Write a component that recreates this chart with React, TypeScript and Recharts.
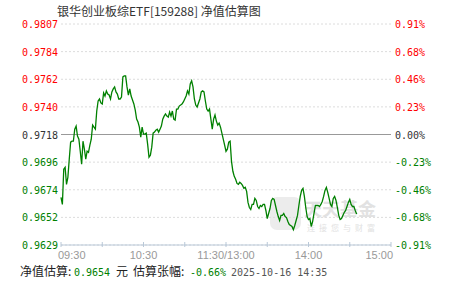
import React from 'react';
import { LineChart, Line, XAxis, YAxis, CartesianGrid, ReferenceLine } from 'recharts';

// 09:30 - 11:30 (minute 0..120)
const morningValues = [
  0.96673, 0.96617, 0.969, 0.96916, 0.96778, 0.96835, 0.96981, 0.97118, 0.97126, 0.97126,
  0.97223, 0.97248, 0.97167, 0.97142, 0.97045, 0.9694, 0.97126, 0.97062, 0.96981, 0.97045,
  0.97037, 0.97094, 0.97142, 0.97256, 0.97239, 0.97223, 0.97369, 0.9745, 0.97466, 0.97434,
  0.97426, 0.97515, 0.9749, 0.97531, 0.97506, 0.97498, 0.97466, 0.97523, 0.97547, 0.97563,
  0.97523, 0.97506, 0.97466, 0.97466, 0.97482, 0.97644, 0.97652, 0.97652, 0.97563, 0.97498,
  0.97547, 0.9749, 0.97458, 0.97426, 0.97377, 0.97304, 0.9728, 0.97239, 0.97159, 0.97239,
  0.97183, 0.97183, 0.97191, 0.97102, 0.96997, 0.97013, 0.97078, 0.97191, 0.97199, 0.97215,
  0.97223, 0.97199, 0.97223, 0.97248, 0.97304, 0.97328, 0.97345, 0.97328, 0.9732, 0.97361,
  0.97328, 0.97369, 0.97304, 0.97296, 0.97385, 0.97385, 0.97409, 0.97417, 0.97426, 0.97442,
  0.97466, 0.9749, 0.97531, 0.97506, 0.97587, 0.97612, 0.97563, 0.97466, 0.97417, 0.97401,
  0.97434, 0.97466, 0.97523, 0.97531, 0.97523, 0.9745, 0.97385, 0.97369, 0.97385, 0.97304,
  0.97223, 0.97304, 0.97337, 0.97288, 0.97256, 0.97272, 0.97239, 0.97191, 0.97142, 0.97094,
  0.97045,
];

// 13:01 - 14:35
const afternoonValues = [
  0.97062, 0.97118, 0.97126, 0.96964, 0.96884, 0.96843, 0.96819, 0.96786, 0.96778, 0.96795,
  0.96786, 0.9677, 0.96746, 0.96754, 0.96722, 0.96633, 0.96592, 0.96576, 0.96617, 0.96617,
  0.96665, 0.96649, 0.966, 0.96584, 0.96608, 0.966, 0.96617, 0.96617, 0.96568, 0.96503,
  0.96544, 0.96584, 0.96649, 0.96665, 0.96657, 0.96608, 0.9656, 0.96519, 0.96487, 0.96528,
  0.96528, 0.96544, 0.96519, 0.96511, 0.96479, 0.96455, 0.96447, 0.96439, 0.96414, 0.96447,
  0.96487, 0.96528, 0.96608, 0.96681, 0.9673, 0.96746, 0.96681, 0.96592, 0.96519, 0.96495,
  0.96503, 0.96439, 0.96479, 0.96544, 0.96608, 0.96608, 0.96608, 0.966, 0.96617, 0.96641,
  0.96681, 0.9673, 0.96754, 0.96714, 0.96665, 0.96617, 0.966, 0.96665, 0.96681, 0.96649,
  0.96592, 0.96528, 0.96495, 0.96503, 0.96528, 0.96552, 0.96568, 0.966, 0.96633, 0.96657,
  0.96617, 0.966, 0.966, 0.96568, 0.9654,
];

const prevClose = 0.9718;
const yMin = 0.9629;
const yMax = 0.9807;
const leftTickLabels = ['0.9629', '0.9652', '0.9674', '0.9696', '0.9718', '0.9740', '0.9762', '0.9784', '0.9807'];
const rightTickLabels = ['-0.91%', '-0.68%', '-0.46%', '-0.23%', '0.00%', '0.23%', '0.46%', '0.68%', '0.91%'];

const xTickMinutes = [0, 30, 60, 90, 120, 150, 180, 210, 240];
const xLabelMinutes = [0, 60, 120, 180, 240];
const xLabels = ['09:30', '10:30', '11:30/13:00', '14:00', '15:00'];

const titleText = '银华创业板综ETF[159288] 净值估算图';
const footerParts = [
  { text: '净值估算:', x: 20, kind: 'cn' },
  { text: '0.9654', x: 74, kind: 'green' },
  { text: '元', x: 116, kind: 'cn' },
  { text: '估算张幅:', x: 133, kind: 'cn' },
  { text: '-0.66%', x: 190, kind: 'green' },
  { text: '2025-10-16 14:35', x: 231, kind: 'date' },
];

const GREEN = '#008000';
const RED = '#ff0000';
const MID = '#333333';
const AXIS = '#b9c8d8';
const MONO = "'DejaVu Sans Mono', 'Liberation Mono', monospace";
const CJK = "'Noto Sans CJK SC', sans-serif";

const yTicks = leftTickLabels.map((_, k) => yMin + (k * (yMax - yMin)) / (leftTickLabels.length - 1));
const data = [...morningValues, ...afternoonValues].map((v, i) => ({ t: i, v }));

const nearestTick = (v: number) => {
  let best = 0;
  yTicks.forEach((t, k) => {
    if (Math.abs(t - v) < Math.abs(yTicks[best] - v)) best = k;
  });
  return best;
};
const tickColor = (k: number) => (k < 4 ? GREEN : k === 4 ? MID : RED);

const LeftTick = (props: any) => {
  const { x, y, payload } = props;
  const k = nearestTick(payload.value);
  return (
    <text x={x} y={y} dy={4} textAnchor="end" fill={tickColor(k)} fontSize={10} fontFamily={MONO}>
      {leftTickLabels[k]}
    </text>
  );
};

const RightTick = (props: any) => {
  const { x, y, payload } = props;
  const k = nearestTick(payload.value);
  return (
    <text x={x} y={y} dy={4} textAnchor="start" fill={tickColor(k)} fontSize={10} fontFamily={MONO}>
      {rightTickLabels[k]}
    </text>
  );
};

const XTick = (props: any) => {
  const { x, y, payload } = props;
  const li = xLabelMinutes.indexOf(payload.value);
  const last = xLabelMinutes.length - 1;
  return (
    <g>
      <line x1={x} x2={x} y1={y - 3} y2={y + 2} stroke={AXIS} />
      {li >= 0 && (
        <text
          x={li === 0 ? x - 3 : li === last ? x + 2 : x}
          y={y + 14}
          textAnchor={li === 0 ? 'start' : li === last ? 'end' : 'middle'}
          fill="#999"
          fontSize={11}
          fontFamily="'Liberation Sans', Arial, sans-serif"
        >
          {xLabels[li]}
        </text>
      )}
    </g>
  );
};

export default function App() {
  return (
    <div style={{ position: 'absolute', left: 0, top: 0, width: 451, height: 281, background: '#fff' }}>
      <svg width={451} height={281} style={{ position: 'absolute', left: 0, top: 0 }}>
        <rect x={270} y={197} width={31} height={33} rx={7} fill="#ececec" />
        <text x={304} y={216} fontSize={18} fontFamily={CJK} fill="#e2e2e2" fontWeight={700}>
          天天基金
        </text>
        <text x={307} y={231} fontSize={8} fontFamily={CJK} fill="#e2e2e2" letterSpacing={4}>
          连接您与财富
        </text>
      </svg>
      <div style={{ position: 'absolute', left: 0, top: 0 }}>
        <LineChart width={451} height={281} data={data} margin={{ top: 24, right: 0, bottom: 0, left: 0 }}>
          <CartesianGrid yAxisId="left" vertical={false} stroke="#dcdcdc" strokeDasharray="2 2" />
          <XAxis
            dataKey="t"
            type="number"
            domain={[0, 240]}
            ticks={xTickMinutes}
            interval={0}
            height={36}
            axisLine={{ stroke: AXIS }}
            tickLine={false}
            tickSize={0}
            tickMargin={0}
            tick={<XTick />}
          />
          <YAxis
            yAxisId="left"
            orientation="left"
            width={61}
            type="number"
            domain={[yMin, yMax]}
            ticks={yTicks}
            interval={0}
            allowDataOverflow
            axisLine={false}
            tickLine={false}
            tickSize={0}
            tickMargin={3}
            tick={<LeftTick />}
          />
          <YAxis
            yAxisId="right"
            orientation="right"
            width={60}
            type="number"
            domain={[yMin, yMax]}
            ticks={yTicks}
            interval={0}
            allowDataOverflow
            axisLine={false}
            tickLine={false}
            tickSize={0}
            tickMargin={4}
            tick={<RightTick />}
          />
          <ReferenceLine yAxisId="left" y={prevClose} stroke="#999" strokeWidth={1} />
          <Line
            yAxisId="left"
            type="linear"
            dataKey="v"
            stroke={GREEN}
            strokeWidth={1.3}
            dot={false}
            isAnimationActive={false}
          />
        </LineChart>
      </div>
      <svg width={451} height={281} style={{ position: 'absolute', left: 0, top: 0, pointerEvents: 'none' }}>
        <text x={57} y={16} fontSize={12} fontFamily={CJK} fill="#333">
          {titleText}
        </text>
        {footerParts.map((p, i) => (
          <text
            key={i}
            x={p.x}
            y={275.5}
            fontSize={p.kind === 'cn' ? 12 : 10}
            fontFamily={p.kind === 'cn' ? CJK : MONO}
            fill={p.kind === 'cn' ? '#222' : p.kind === 'green' ? GREEN : '#555'}
          >
            {p.text}
          </text>
        ))}
      </svg>
    </div>
  );
}
